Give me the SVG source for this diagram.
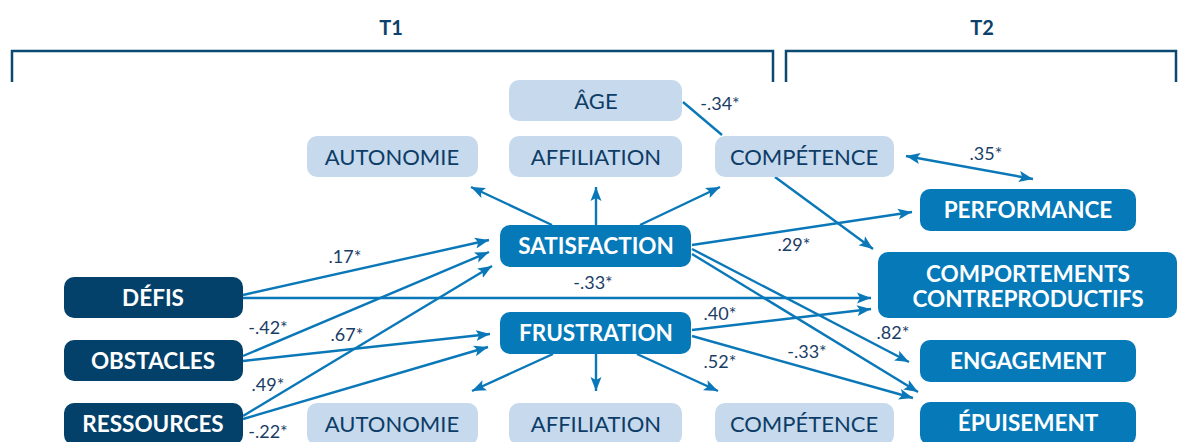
<svg xmlns="http://www.w3.org/2000/svg" width="1183" height="442" viewBox="0 0 1183 442">
  <style>
    .dark { fill: #03416a; }
    .mid { fill: #0679b9; }
    .light { fill: #c6d9ed; }
    .tb { font-family: Lato, "Liberation Sans", sans-serif; font-weight: 700; font-size: 22.5px; fill: #ffffff; text-anchor: middle; }
    .tl { font-family: Lato, "Liberation Sans", sans-serif; font-weight: 400; font-size: 22px; fill: #0d3d66; text-anchor: middle; }
    .lbl { font-family: Lato, "Liberation Sans", sans-serif; font-size: 18px; fill: #1a3d66; text-anchor: middle; }
    .hdr { font-family: Lato, "Liberation Sans", sans-serif; font-weight: 700; font-size: 20px; fill: #0b416a; text-anchor: middle; }
    .bracket { fill: none; stroke: #0b4a70; stroke-width: 2.5; }
    .conn line { stroke: #0a78b8; stroke-width: 2.4; fill: none; }
  </style>
  <defs>
    <marker id="arrow" markerUnits="userSpaceOnUse" markerWidth="15" markerHeight="12" refX="14" refY="6" orient="auto-start-reverse">
      <path d="M0,0.5 L14,6 L0,11.5 L3,6 z" fill="#0a78b8"/>
    </marker>
  </defs>

  <!-- time headers -->
  <g id="t1">
    <text class="hdr" x="391" y="35">T1</text>
    <path class="bracket" d="M12,82 V51 H773 V82"/>
  </g>
  <g id="t2">
    <text class="hdr" x="982" y="35">T2</text>
    <path class="bracket" d="M786,82 V51 H1176 V82"/>
  </g>

  <!-- connectors -->
  <g id="connectors" class="conn">
    <!-- age to competence (no head) -->
    <line x1="683" y1="102" x2="722" y2="135"/>
    <!-- competence <-> performance -->
    <line x1="906" y1="156" x2="1033" y2="179" marker-start="url(#arrow)" marker-end="url(#arrow)"/>
    <!-- competence -> comportements -->
    <line x1="775" y1="177" x2="873" y2="249" marker-end="url(#arrow)"/>
    <!-- satisfaction -> needs -->
    <line x1="552" y1="225" x2="471" y2="187" marker-end="url(#arrow)"/>
    <line x1="596" y1="225" x2="596" y2="187" marker-end="url(#arrow)"/>
    <line x1="640" y1="225" x2="720" y2="187" marker-end="url(#arrow)"/>
    <!-- frustration -> needs -->
    <line x1="553" y1="354" x2="472" y2="391" marker-end="url(#arrow)"/>
    <line x1="596" y1="354" x2="596" y2="391" marker-end="url(#arrow)"/>
    <line x1="637" y1="354" x2="718" y2="391" marker-end="url(#arrow)"/>
    <!-- antecedents -> satisfaction -->
    <line x1="243" y1="295" x2="489" y2="240" marker-end="url(#arrow)"/>
    <line x1="243" y1="356" x2="489" y2="252" marker-end="url(#arrow)"/>
    <line x1="243" y1="416" x2="492" y2="266" marker-end="url(#arrow)"/>
    <!-- antecedents -> frustration -->
    <line x1="243" y1="361" x2="490" y2="334" marker-end="url(#arrow)"/>
    <line x1="243" y1="419" x2="488" y2="347" marker-end="url(#arrow)"/>
    <!-- defis -> comportements -->
    <line x1="243" y1="298" x2="871" y2="298" marker-end="url(#arrow)"/>
    <!-- satisfaction -> outcomes -->
    <line x1="692" y1="245" x2="912" y2="212" marker-end="url(#arrow)"/>
    <line x1="692" y1="249" x2="909" y2="362" marker-end="url(#arrow)"/>
    <line x1="692" y1="254" x2="918" y2="392" marker-end="url(#arrow)"/>
    <!-- frustration -> outcomes -->
    <line x1="692" y1="330" x2="871" y2="309" marker-end="url(#arrow)"/>
    <line x1="692" y1="336" x2="913" y2="398" marker-end="url(#arrow)"/>
  </g>

  <!-- path coefficients -->
  <g id="coefficients">
    <text class="lbl" x="720" y="110">-.34*</text>
    <text class="lbl" x="986" y="160">.35*</text>
    <text class="lbl" x="345" y="263">.17*</text>
    <text class="lbl" x="794" y="251">.29*</text>
    <text class="lbl" x="593" y="289">-.33*</text>
    <text class="lbl" x="268" y="334">-.42*</text>
    <text class="lbl" x="347" y="341">.67*</text>
    <text class="lbl" x="720" y="320">.40*</text>
    <text class="lbl" x="893" y="339">.82*</text>
    <text class="lbl" x="807" y="358">-.33*</text>
    <text class="lbl" x="720" y="368">.52*</text>
    <text class="lbl" x="268" y="391">.49*</text>
    <text class="lbl" x="268" y="438">-.22*</text>
  </g>

  <!-- T1 nodes -->
  <g id="age"><rect class="light" x="509" y="80" width="173" height="41" rx="10"/><text class="tl" x="596" y="109">ÂGE</text></g>
  <g id="sat-autonomie"><rect class="light" x="307" y="136" width="171" height="41" rx="10"/><text class="tl" x="392" y="165">AUTONOMIE</text></g>
  <g id="sat-affiliation"><rect class="light" x="509" y="136" width="173" height="41" rx="10"/><text class="tl" x="596" y="165">AFFILIATION</text></g>
  <g id="sat-competence"><rect class="light" x="715" y="136" width="179" height="41" rx="10"/><text class="tl" x="804" y="165">COMPÉTENCE</text></g>
  <g id="satisfaction"><rect class="mid" x="500" y="225" width="191" height="42" rx="10"/><text class="tb" x="596" y="254">SATISFACTION</text></g>
  <g id="frustration"><rect class="mid" x="500" y="312" width="191" height="42" rx="10"/><text class="tb" x="596" y="341">FRUSTRATION</text></g>
  <g id="defis"><rect class="dark" x="64" y="277" width="179" height="41" rx="10"/><text class="tb" x="153" y="306">DÉFIS</text></g>
  <g id="obstacles"><rect class="dark" x="64" y="340" width="179" height="41" rx="10"/><text class="tb" x="153" y="369">OBSTACLES</text></g>
  <g id="ressources"><rect class="dark" x="64" y="403" width="179" height="42" rx="10"/><text class="tb" x="153" y="432">RESSOURCES</text></g>
  <g id="frus-autonomie"><rect class="light" x="307" y="403" width="171" height="42" rx="10"/><text class="tl" x="392" y="432">AUTONOMIE</text></g>
  <g id="frus-affiliation"><rect class="light" x="509" y="403" width="173" height="42" rx="10"/><text class="tl" x="596" y="432">AFFILIATION</text></g>
  <g id="frus-competence"><rect class="light" x="715" y="403" width="179" height="42" rx="10"/><text class="tl" x="804" y="432">COMPÉTENCE</text></g>

  <!-- T2 nodes -->
  <g id="performance"><rect class="mid" x="920" y="189" width="216" height="42" rx="10"/><text class="tb" x="1028" y="218">PERFORMANCE</text></g>
  <g id="comportements"><rect class="mid" x="878" y="252" width="299" height="66" rx="10"/><text class="tb" x="1028" y="282">COMPORTEMENTS</text><text class="tb" x="1028" y="307">CONTREPRODUCTIFS</text></g>
  <g id="engagement"><rect class="mid" x="920" y="340" width="216" height="42" rx="10"/><text class="tb" x="1028" y="369">ENGAGEMENT</text></g>
  <g id="epuisement"><rect class="mid" x="920" y="402" width="216" height="43" rx="10"/><text class="tb" x="1028" y="431">ÉPUISEMENT</text></g>
</svg>
